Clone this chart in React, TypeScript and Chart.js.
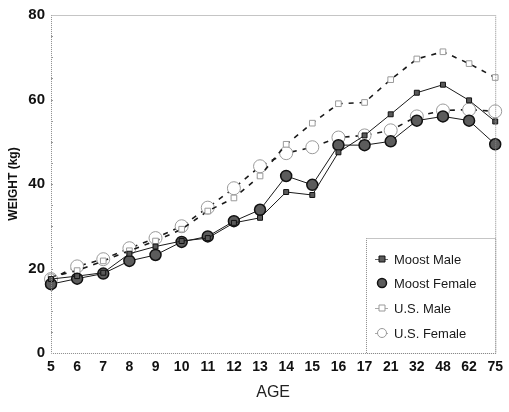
import React, { useEffect, useRef } from "react";
import { Chart, registerables } from "chart.js";

Chart.register(...registerables);

// Age groups along the horizontal axis
const AGES = ["5", "6", "7", "8", "9", "10", "11", "12", "13", "14", "15", "16", "17", "21", "32", "48", "62", "75"];

// Mean body weight (kg) per age group
const MOOST_MALE = [17.5, 18.2, 19.0, 23.5, 25.2, 26.5, 27.2, 30.8, 32.0, 38.1, 37.4, 47.5, 51.5, 56.5, 61.6, 63.5, 59.8, 54.8];
const MOOST_FEMALE = [16.3, 17.6, 18.8, 21.8, 23.2, 26.3, 27.6, 31.2, 33.9, 41.9, 39.8, 49.2, 49.2, 50.1, 55.0, 56.0, 55.0, 49.4];
const US_MALE = [18.0, 19.5, 21.8, 24.2, 26.5, 29.3, 33.6, 36.7, 41.9, 49.4, 54.4, 59.0, 59.3, 64.7, 69.6, 71.3, 68.5, 65.2];
const US_FEMALE = [17.5, 20.5, 22.2, 24.8, 27.2, 30.0, 34.4, 39.0, 44.2, 47.3, 48.7, 51.0, 51.5, 52.7, 56.0, 57.4, 57.6, 57.2];

const Y_TICKS = [0, 20, 40, 60, 80];

const FONT = "'Liberation Sans', Arial, Helvetica, sans-serif";

// Dotted frame around the plot, small inward ticks and the boxed legend
const framePlugin = {
  id: "frame",
  afterDatasetsDraw(chart: any) {
    const { ctx, chartArea } = chart;
    const { left, right, top, bottom } = chartArea;
    const yScale = chart.scales.y;
    ctx.save();
    ctx.strokeStyle = "#8a8a8a";
    ctx.lineWidth = 1;
    ctx.setLineDash([1, 1]);
    ctx.strokeRect(left + 0.5, top + 0.5, right - left, bottom - top);
    ctx.setLineDash([]);
    ctx.strokeStyle = "#9a9a9a";
    for (let v = 5; v < 80; v += 5) {
      const y = Math.round(yScale.getPixelForValue(v)) + 0.5;
      ctx.beginPath();
      ctx.moveTo(left, y);
      ctx.lineTo(left + 2, y);
      ctx.stroke();
    }

    // Legend box in the lower right of the plot
    const bx = 366;
    const by = 238;
    ctx.fillStyle = "#ffffff";
    ctx.fillRect(bx, by, right - bx, bottom - by);
    ctx.strokeStyle = "#8a8a8a";
    ctx.setLineDash([1, 1]);
    ctx.strokeRect(bx + 0.5, by + 0.5, right - bx, bottom - by);
    ctx.setLineDash([]);

    const rows = [259, 283, 308, 333];
    chart.data.datasets.forEach((ds: any, i: number) => {
      const y = rows[i];
      const mx = 382;
      if (i !== 1) {
        ctx.strokeStyle = i >= 2 ? "#aaaaaa" : "#666666";
        ctx.lineWidth = 1;
        ctx.beginPath();
        ctx.moveTo(mx - 7, y + 0.5);
        ctx.lineTo(mx + 6, y + 0.5);
        ctx.stroke();
      }
      ctx.fillStyle = ds.pointBackgroundColor;
      ctx.strokeStyle = ds.pointBorderColor;
      ctx.lineWidth = ds.pointBorderWidth;
      const r = i === 1 ? 4.5 : i === 3 ? 4.5 : 3;
      ctx.beginPath();
      if (ds.pointStyle === "rect") {
        ctx.rect(mx - r, y - r, r * 2, r * 2);
      } else {
        ctx.arc(mx, y, r, 0, Math.PI * 2);
      }
      ctx.fill();
      ctx.stroke();
      ctx.fillStyle = "#1a1a1a";
      ctx.font = `13px ${FONT}`;
      ctx.textBaseline = "middle";
      ctx.textAlign = "left";
      ctx.fillText(ds.label, 394, y + 1);
    });
    ctx.restore();
  },
};

export default function App() {
  const canvasRef = useRef<HTMLCanvasElement | null>(null);

  useEffect(() => {
    if (!canvasRef.current) return;
    const chart = new Chart(canvasRef.current, {
      type: "line",
      data: {
        labels: AGES,
        datasets: [
          {
            label: "Moost Male",
            data: MOOST_MALE,
            borderColor: "#1a1a1a",
            borderWidth: 1,
            pointStyle: "rect",
            pointRadius: 3.5,
            pointBackgroundColor: "#5a5a5a",
            pointBorderColor: "#111111",
            pointBorderWidth: 1,
            clip: false,
          },
          {
            label: "Moost Female",
            data: MOOST_FEMALE,
            borderColor: "#1a1a1a",
            borderWidth: 1,
            pointStyle: "circle",
            pointRadius: 5.5,
            pointBackgroundColor: "#5c5c5c",
            pointBorderColor: "#111111",
            pointBorderWidth: 1.5,
            clip: false,
          },
          {
            label: "U.S. Male",
            data: US_MALE,
            borderColor: "#1a1a1a",
            borderWidth: 1.6,
            borderDash: [5, 6],
            pointStyle: "rect",
            pointRadius: 4,
            pointBackgroundColor: "#ffffff",
            pointBorderColor: "#9a9a9a",
            pointBorderWidth: 1,
            clip: false,
          },
          {
            label: "U.S. Female",
            data: US_FEMALE,
            borderColor: "#1a1a1a",
            borderWidth: 1.6,
            borderDash: [5, 6],
            pointStyle: "circle",
            pointRadius: 6.5,
            pointBackgroundColor: "#ffffff",
            pointBorderColor: "#9a9a9a",
            pointBorderWidth: 1,
            clip: false,
          },
        ],
      },
      options: {
        animation: false,
        responsive: true,
        maintainAspectRatio: false,
        layout: { padding: { top: 13, right: 11, bottom: 0, left: 0 } },
        plugins: {
          legend: { display: false },
          tooltip: { enabled: false },
        },
        elements: { line: { tension: 0 } },
        scales: {
          x: {
            offset: false,
            grid: { display: false, drawTicks: false },
            border: { display: false },
            ticks: {
              color: "#111111",
              font: { family: FONT, size: 14, weight: "bold" },
              padding: 6,
              maxRotation: 0,
              autoSkip: false,
            },
            title: {
              display: true,
              text: "AGE",
              color: "#222222",
              font: { family: FONT, size: 16, weight: "normal" },
              padding: { top: 0, bottom: 10 },
            },
            afterFit(scale: any) {
              scale.height = 59;
            },
          },
          y: {
            min: 0,
            max: 80,
            grid: { display: false, drawTicks: false },
            border: { display: false },
            afterBuildTicks(scale: any) {
              scale.ticks = Y_TICKS.map((v) => ({ value: v }));
            },
            ticks: {
              color: "#111111",
              font: { family: FONT, size: 15, weight: "bold" },
              padding: 6,
            },
            title: {
              display: true,
              text: "WEIGHT (kg)",
              color: "#111111",
              font: { family: FONT, size: 12, weight: "bold" },
              padding: { top: 6, bottom: 0 },
            },
            afterFit(scale: any) {
              scale.width = 51;
            },
          },
        },
      },
      plugins: [framePlugin],
    });
    return () => chart.destroy();
  }, []);

  return (
    <div style={{ position: "fixed", left: 0, top: 0, width: 509, height: 412, background: "#ffffff" }}>
      <canvas ref={canvasRef} />
    </div>
  );
}
